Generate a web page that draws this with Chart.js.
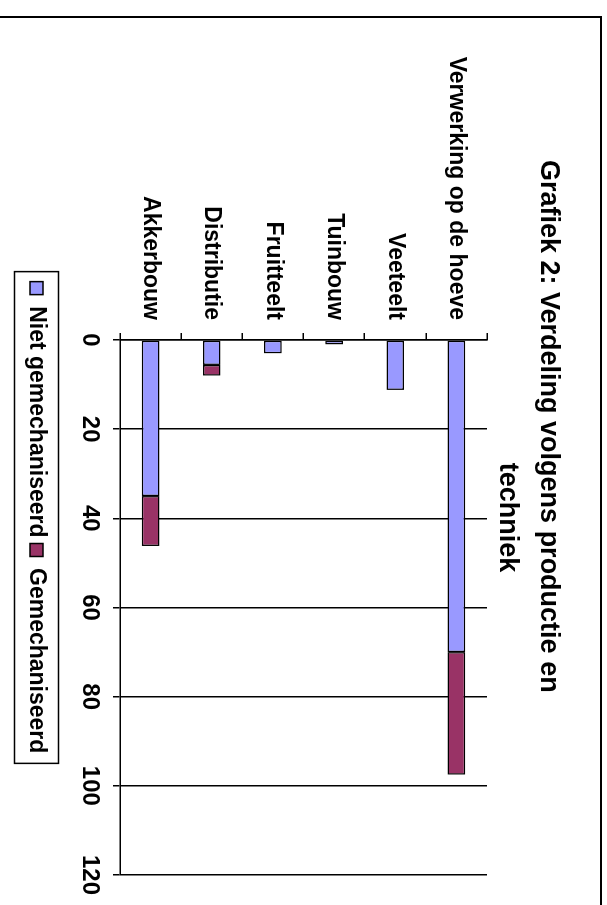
<!DOCTYPE html>
<html>
<head>
<meta charset="utf-8">
<script src="https://cdn.jsdelivr.net/npm/chart.js@4.4.0/dist/chart.umd.min.js"></script>
<style>
  html, body { margin: 0; padding: 0; background: #fff; overflow: hidden; }
  body { width: 607px; height: 905px; position: relative; }
  #kader { position: absolute; left: -10px; top: 16px; width: 612px; height: 1000px; border: 2px solid #000; box-sizing: border-box; }
  #draai { position: absolute; left: 0; top: 0; width: 905px; height: 607px; transform-origin: 0 0; transform: translateX(607px) rotate(90deg); }
</style>
</head>
<body>
<div id="kader"></div>
<div id="draai"><canvas id="grafiek" width="905" height="607"></canvas></div>
<script>
// data uit grafiek 2
const categorieen = ['Verwerking op de hoeve', 'Veeteelt', 'Tuinbouw', 'Fruitteelt', 'Distributie', 'Akkerbouw'];
const nietGemechaniseerd = [70, 11.2, 1, 3, 5.6, 35];
const gemechaniseerd = [27.5, 0, 0, 0, 2.4, 11.2];
const waardeTicks = [0, 20, 40, 60, 80, 100, 120];

const lettertype = "'Liberation Sans', Arial, sans-serif";
Chart.defaults.font.family = lettertype;
Chart.defaults.font.weight = 'bold';
Chart.defaults.color = '#000';

// kader rond de legende
const legendeKader = {
  id: 'legendeKader',
  afterDraw(chart) {
    const boxes = chart.legend && chart.legend.legendHitBoxes;
    if (!boxes || !boxes.length) return;
    const l = Math.min(...boxes.map(b => b.left)) - 10;
    const r = Math.max(...boxes.map(b => b.left + b.width)) + 10;
    const t = Math.min(...boxes.map(b => b.top)) - 10.5;
    const o = Math.max(...boxes.map(b => b.top + b.height)) + 10.5;
    const ctx = chart.ctx;
    ctx.save();
    ctx.strokeStyle = '#000';
    ctx.lineWidth = 1.5;
    ctx.strokeRect(l, t, r - l, o - t);
    ctx.restore();
  }
};

const ctx = document.getElementById('grafiek').getContext('2d');

// breedste categorielabel, zodat de labels rechts uitgelijnd 20px voor de as eindigen
ctx.font = 'bold 23px ' + lettertype;
const breedste = Math.max(...categorieen.map(c => ctx.measureText(c).width));

new Chart(ctx, {
  type: 'bar',
  data: {
    labels: categorieen,
    datasets: [{
      label: 'Niet gemechaniseerd',
      data: nietGemechaniseerd,
      backgroundColor: '#9999FF',
      borderColor: '#000',
      borderWidth: 1.5,
      borderSkipped: false
    }, {
      label: 'Gemechaniseerd',
      data: gemechaniseerd,
      backgroundColor: '#993366',
      borderColor: '#000',
      borderWidth: 1.5,
      borderSkipped: false
    }]
  },
  options: {
    indexAxis: 'y',
    responsive: false,
    animation: false,
    categoryPercentage: 1,
    barPercentage: 0.29,
    layout: { padding: { left: 160, right: 30, top: 0, bottom: 15 } },
    scales: {
      x: {
        stacked: true,
        min: waardeTicks[0],
        max: waardeTicks[waardeTicks.length - 1],
        ticks: { stepSize: waardeTicks[1] - waardeTicks[0], font: { size: 24, weight: 'bold' }, padding: 9 },
        grid: { color: '#000', lineWidth: 1.5, tickLength: 7 },
        border: { display: true, color: '#000', width: 1.5 },
        afterFit: s => { s.height = 66; }
      },
      y: {
        stacked: true,
        ticks: { font: { size: 23, weight: 'bold' }, mirror: true, crossAlign: 'far', padding: -(breedste + 20) },
        grid: { drawOnChartArea: false, color: '#000', lineWidth: 1.5, tickLength: 7 },
        border: { display: true, color: '#000', width: 1.5 },
        afterFit: s => { s.width = 180; }
      }
    },
    plugins: {
      title: {
        display: true,
        text: 'Grafiek 2: Verdeling volgens productie en',
        align: 'start',
        color: '#000',
        font: { size: 27, weight: 'bold' },
        padding: { top: 42, bottom: 0 }
      },
      subtitle: {
        display: true,
        text: 'techniek',
        color: '#000',
        font: { size: 27, weight: 'bold' },
        padding: { top: 9.4, bottom: 3.8 }
      },
      legend: {
        position: 'bottom',
        labels: { boxWidth: 13, boxHeight: 13, padding: 6, color: '#000', font: { size: 23, weight: 'bold' } }
      },
      tooltip: { enabled: false }
    }
  },
  plugins: [legendeKader]
});
</script>
</body>
</html>
